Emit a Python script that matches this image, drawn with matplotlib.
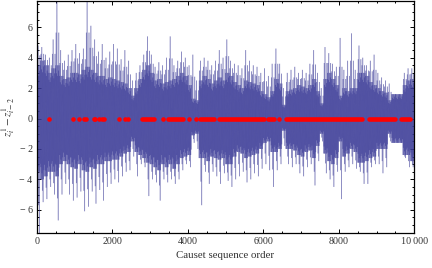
import numpy as np
import matplotlib
matplotlib.use('Agg')
import matplotlib.pyplot as plt
from matplotlib.ticker import MultipleLocator, FuncFormatter
from matplotlib.collections import LineCollection

# ---- data (blocks of 100 sequence steps) ----
BLOCK = 100
spike_hi = [4.8, 4.7, 4.2, 4.0, 5.2, 7.8, 4.5, 3.8, 4.2, 4.5,
            4.9, 4.3, 4.6, 7.9, 6.1, 5.2, 4.4, 4.9, 4.0, 4.4,
            4.9, 4.6, 3.9, 4.5, 3.8, 2.5, 3.0, 3.5, 4.2, 5.4,
            4.2, 3.4, 3.7, 3.5, 4.0, 5.4, 3.5, 3.8, 4.4, 4.0,
            3.5, 4.2, 2.5, 3.8, 4.0, 3.8, 3.5, 3.8, 4.5, 4.0,
            5.2, 3.8, 3.6, 3.5, 3.3, 4.5, 3.8, 3.5, 3.4, 3.0,
            3.3, 2.8, 3.6, 4.6, 3.6, 2.0, 3.0, 3.2, 3.4, 3.0,
            3.2, 3.0, 3.6, 4.5, 3.0, 2.0, 4.7, 4.3, 3.6, 3.4,
            5.3, 3.2, 3.8, 5.6, 3.2, 4.8, 4.0, 3.5, 3.8, 4.2,
            3.0, 2.7, 2.5, 2.3, 1.6, 1.6, 1.6, 3.0, 3.3, 3.3]
spike_lo = [-7.9, -5.5, -5.3, -4.5, -5.0, -6.7, -5.0, -4.3, -5.0, -5.4,
            -5.2, -4.8, -6.1, -5.8, -4.8, -5.6, -4.7, -5.4, -4.5, -4.3,
            -4.0, -4.2, -3.8, -3.5, -3.4, -2.5, -3.8, -3.0, -3.2, -5.1,
            -4.0, -4.2, -5.4, -4.0, -4.2, -4.0, -4.3, -4.0, -3.4, -3.0,
            -3.2, -1.6, -2.0, -5.7, -3.5, -4.3, -3.5, -3.8, -4.3, -3.6,
            -4.1, -4.5, -4.0, -3.8, -3.5, -4.2, -4.0, -3.6, -3.8, -3.3,
            -3.0, -3.4, -4.5, -3.4, -3.0, -1.8, -3.0, -3.2, -3.0, -3.6,
            -3.8, -3.2, -3.0, -4.4, -2.8, -1.5, -3.6, -4.0, -4.5, -3.5,
            -5.3, -3.5, -3.2, -3.0, -3.3, -3.5, -4.3, -4.3, -3.2, -3.0,
            -3.0, -3.6, -3.2, -1.5, -1.6, -1.6, -1.6, -2.6, -3.2, -3.2]
core_hi = [3.5, 3.8, 3.5, 3.0, 3.3, 3.5, 2.8, 2.6, 2.7, 3.0,
           3.0, 2.9, 3.2, 3.4, 3.2, 3.0, 2.8, 2.8, 2.6, 2.7,
           2.6, 2.5, 2.4, 2.3, 2.0, 1.5, 2.0, 2.6, 3.2, 3.5,
           3.0, 2.5, 2.6, 2.3, 2.4, 2.5, 2.6, 2.8, 3.0, 2.8,
           2.2, 1.3, 1.2, 2.5, 2.8, 2.6, 2.3, 2.5, 2.7, 2.5,
           3.0, 2.8, 2.4, 2.2, 2.0, 2.5, 2.4, 2.3, 2.2, 1.8,
           1.6, 1.4, 1.8, 2.6, 2.3, 0.9, 1.8, 1.9, 2.0, 2.2,
           2.1, 2.0, 2.2, 2.6, 1.8, 1.0, 2.6, 3.0, 2.6, 2.2,
           1.5, 2.0, 1.8, 2.0, 2.0, 3.0, 3.0, 2.8, 2.4, 2.2,
           2.0, 1.8, 1.7, 1.2, 1.6, 1.6, 1.6, 2.2, 2.5, 2.6]
core_lo = [-3.5, -4.0, -3.8, -3.5, -3.5, -3.8, -3.0, -2.8, -3.0, -3.2,
           -3.3, -3.0, -3.4, -3.5, -3.2, -3.3, -3.0, -3.0, -2.8, -2.8,
           -2.7, -2.7, -2.5, -2.3, -2.2, -1.5, -2.2, -2.4, -2.6, -2.9,
           -3.0, -3.2, -3.4, -3.0, -3.2, -3.0, -3.3, -3.0, -2.6, -2.5,
           -2.4, -1.1, -1.0, -2.6, -2.6, -2.8, -2.5, -2.6, -2.7, -2.6,
           -3.0, -3.0, -2.5, -2.2, -2.3, -2.6, -2.5, -2.4, -2.3, -2.0,
           -1.6, -1.5, -2.2, -2.2, -2.0, -0.8, -2.0, -2.0, -2.1, -2.4,
           -2.5, -2.2, -2.1, -2.6, -1.8, -1.0, -2.3, -2.8, -3.0, -2.6,
           -1.5, -2.5, -2.3, -2.0, -2.2, -2.9, -2.9, -2.8, -2.6, -2.5,
           -2.0, -2.0, -2.0, -1.0, -1.6, -1.6, -1.6, -2.4, -2.4, -2.8]

# red points at zero: isolated points and runs of touching points
red_single = [317, 952, 1111, 1244, 1305, 1508, 1553, 1659, 1729, 1791,
              2188, 2347, 2409, 3336, 4043, 4210, 6423]
red_runs = [(2780, 3107), (3487, 3884), (4325, 4696), (4837, 6026),
            (6114, 6273), (6600, 8623), (8791, 9480), (9657, 9877)]

x_ticks = [0, 2000, 4000, 6000, 8000, 10000]
x_tick_labels = ['0', '2000', '4000', '6000', '8000', '10\u2009000']
y_ticks = [-6, -4, -2, 0, 2, 4, 6]

# ---- build the polyline from the block envelopes ----
xs, ys = [], []
for i in range(len(spike_hi)):
    ch, cl, sh, sl = core_hi[i], core_lo[i], spike_hi[i], spike_lo[i]
    mh, ml = (ch + sh) / 2, (cl + sl) / 2
    seq = [cl, ch, 0.8 * cl, mh, cl, 0.85 * ch, cl, sh, 0.9 * cl, ch,
           ml, 0.8 * ch, cl, ch, sl, 0.9 * ch, cl, mh, 0.85 * cl, ch]
    n = len(seq)
    for k, v in enumerate(seq):
        xs.append(i * BLOCK + k * BLOCK / n)
        ys.append(v)
pts = np.column_stack([xs, ys])
segs = np.stack([pts[:-1], pts[1:]], axis=1)

plt.rcParams['font.family'] = ['Liberation Serif', 'DejaVu Serif']
plt.rcParams['mathtext.fontset'] = 'stix'

fig = plt.figure(figsize=(4.32, 2.68), dpi=100)
ax = fig.add_axes([36.7/432, 1 - 233.3/268, (414.3-36.7)/432, (232.3)/268])

blue = (0.24, 0.24, 0.6)
lc = LineCollection(segs, colors=[blue], linewidths=0.55, alpha=0.45)
ax.add_collection(lc)

red = '#ff0000'
ms = 3.3
ax.plot(red_single, [0]*len(red_single), 'o', color=red, ms=ms, mew=0, zorder=5)
for a, b in red_runs:
    ax.plot([a, b], [0, 0], '-', color=red, lw=ms, solid_capstyle='round', zorder=5)

ax.set_xlim(0, 10000)
ax.set_ylim(-7.55, 7.73)

ax.set_xticks(x_ticks)
ax.set_xticklabels(x_tick_labels)
ax.xaxis.set_minor_locator(MultipleLocator(500))
ax.set_yticks(y_ticks)
ax.yaxis.set_major_formatter(FuncFormatter(lambda v, p: ('\u2212 %d' % -v) if v < 0 else '%d' % v))
ax.yaxis.set_minor_locator(MultipleLocator(0.5))

ax.tick_params(which='both', direction='in', top=True, right=True, colors='black',
               labelcolor='#333333', labelsize=7.2, width=0.7)
ax.tick_params(which='major', length=3.2, pad=3)
ax.tick_params(which='minor', length=1.7)
for s in ax.spines.values():
    s.set_linewidth(0.9)

ax.set_xlabel('Causet sequence order', fontsize=7.8, color='#333333', labelpad=3)
ax.set_ylabel(r'$z_i^1-z_{i-2}^1$', fontsize=8, color='#333333', labelpad=2)

fig.savefig('out.png', dpi=100)
